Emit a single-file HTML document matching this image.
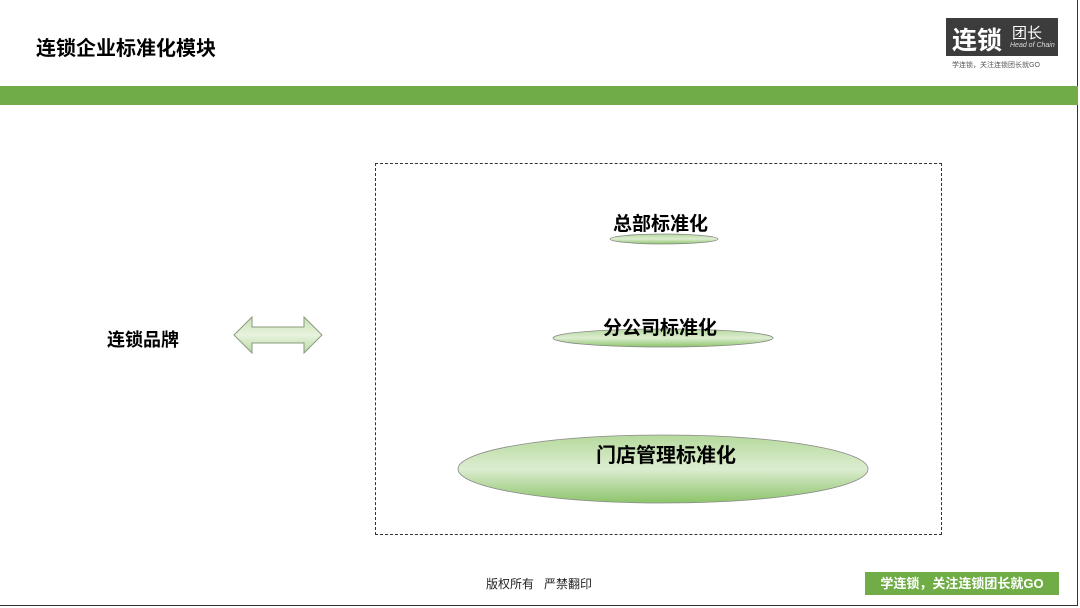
<!DOCTYPE html>
<html><head><meta charset="utf-8"><style>
body{margin:0;width:1080px;height:608px;overflow:hidden;background:#fff;font-family:"Liberation Sans","Noto Sans CJK SC",sans-serif;}
.pg{position:absolute;left:0;top:0;width:1077px;height:605px;border:1px solid #333;border-left:none;border-top:none;}
.a{position:absolute;}
.t{font-weight:bold;color:#000;white-space:nowrap;}
</style></head><body>
<div class="pg"></div>
<div class="a t" style="left:36px;top:32px;font-size:20px;">连锁企业标准化模块</div>
<div class="a" style="left:946px;top:18px;width:112px;height:38px;background:#3c3c3c;"></div>
<div class="a t" style="left:952px;top:21px;font-size:25px;color:#fff;">连锁</div>
<div class="a" style="left:1012px;top:22px;font-size:15px;color:#fff;">团长</div>
<div class="a" style="left:1010px;top:42px;font-size:7px;color:#ddd;font-style:italic;">Head of Chain</div>
<div class="a" style="left:952px;top:60px;font-size:7px;color:#555;">学连锁，关注连锁团长就GO</div>
<div class="a" style="left:0;top:86px;width:1078px;height:19px;background:#70ad47;"></div>
<div class="a" style="left:375px;top:163px;width:565px;height:370px;border:1px dashed #333;"></div>
<div class="a t" style="left:107px;top:326px;font-size:18px;">连锁品牌</div>
<svg class="a" style="left:0;top:0" width="1080" height="608">
<defs>
<linearGradient id="g" x1="0" y1="0" x2="0" y2="1"><stop offset="0" stop-color="#b5d99c"/><stop offset="0.5" stop-color="#dcedd0"/><stop offset="1" stop-color="#8cc46a"/></linearGradient>
<linearGradient id="g2" x1="0" y1="0" x2="0" y2="1"><stop offset="0" stop-color="#c6e2b2"/><stop offset="0.5" stop-color="#e8f3df"/><stop offset="1" stop-color="#b9da9f"/></linearGradient>
</defs>
<polygon points="234,335 252,317 252,327 304,327 304,317 322,335 304,353 304,343 252,343 252,353" fill="url(#g2)" stroke="#8a9a80" stroke-width="1"/>
<ellipse cx="664" cy="239" rx="54" ry="5" fill="url(#g)" stroke="#888" stroke-width="0.8"/>
<ellipse cx="663" cy="338" rx="110" ry="9" fill="url(#g)" stroke="#888" stroke-width="0.8"/>
<ellipse cx="663" cy="469" rx="205" ry="34" fill="url(#g)" stroke="#888" stroke-width="0.8"/>
</svg>
<div class="a t" style="left:613px;top:209px;font-size:19px;">总部标准化</div>
<div class="a t" style="left:603px;top:313px;font-size:19px;">分公司标准化</div>
<div class="a t" style="left:596px;top:439px;font-size:20px;">门店管理标准化</div>
<div class="a" style="left:486px;top:575px;font-size:12px;color:#222;">版权所有&nbsp;&nbsp;&nbsp;严禁翻印</div>
<div class="a" style="left:865px;top:572px;width:194px;height:23px;background:#70ad47;color:#fff;font-weight:bold;font-size:13px;text-align:center;line-height:23px;">学连锁，关注连锁团长就GO</div>
</body></html>
